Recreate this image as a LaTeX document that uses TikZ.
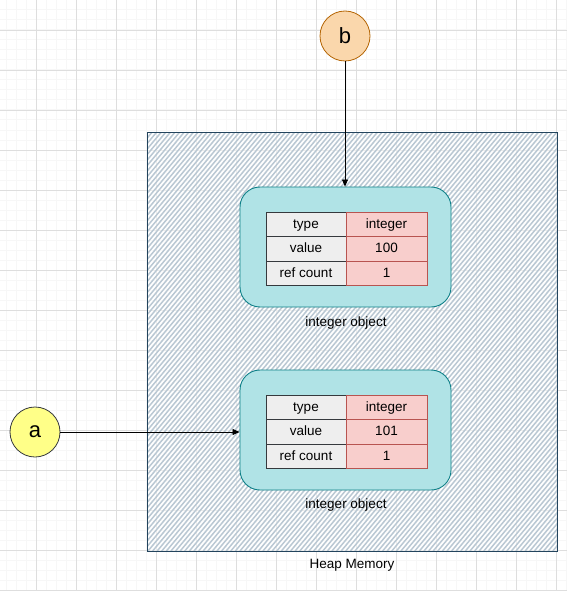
\documentclass[tikz,border=0pt]{standalone}
\usepackage{fontspec}
\setmainfont{Liberation Sans}
\usetikzlibrary{arrows.meta}
\definecolor{gridminor}{HTML}{F7F7F7}
\definecolor{gridmajor}{HTML}{DEDEDE}
\definecolor{heapstroke}{HTML}{23445D}
\definecolor{hatchc}{HTML}{BAC8D3}
\definecolor{objfill}{HTML}{B0E3E6}
\definecolor{objstroke}{HTML}{0E8088}
\definecolor{greyfill}{HTML}{EEEEEE}
\definecolor{greystroke}{HTML}{36393D}
\definecolor{redfill}{HTML}{F8CECC}
\definecolor{redstroke}{HTML}{B85450}
\definecolor{bfill}{HTML}{FAD7AC}
\definecolor{bstroke}{HTML}{B46504}
\definecolor{afill}{HTML}{FFFF88}
\begin{document}
\begin{tikzpicture}[x=1pt,y=-1pt,
  objbox/.style={draw=objstroke,fill=objfill,rounded corners=20pt,line width=0.9pt,minimum width=211pt,minimum height=120pt,inner sep=0pt},
  cellbase/.style={line width=0.8pt,minimum height=24.7pt,inner sep=0pt,text height=9.5pt,text depth=2.5pt,font=\fontsize{13.5}{15}\selectfont},
  keycell/.style={cellbase,draw=greystroke,fill=greyfill,minimum width=80pt},
  valcell/.style={cellbase,draw=redstroke,fill=redfill,minimum width=81pt},
  lbl/.style={font=\fontsize{13.5}{15}\selectfont,inner sep=0pt},
  var/.style={circle,minimum size=50pt,inner sep=0pt,line width=0.8pt,font=\fontsize{22}{24}\selectfont},
  conn/.style={-{Triangle[length=7pt,width=6pt]},line width=0.8pt,black}
]
\useasboundingbox (0,0) rectangle (567,591);
% grid
\foreach \x in {6,16,...,566} \draw[gridminor,line width=1pt] (\x,0) -- (\x,591);
\foreach \y in {0,10,...,590} \draw[gridminor,line width=1pt] (0,\y) -- (567,\y);
\foreach \x in {36,76,...,566} \draw[gridmajor,line width=0.8pt] (\x,0) -- (\x,591);
\foreach \y in {30,70,...,590} \draw[gridmajor,line width=0.8pt] (0,\y) -- (567,\y);
% heap
\node[draw=none,minimum width=410pt,minimum height=419pt,inner sep=0pt] (heap) at (352,341.5) {};
\begin{scope}
  \clip (147,132) rectangle (557,551);
  \fill[white,opacity=0.5] (147,132) rectangle (557,551);
  \foreach \x in {-220,-215.4,...,560} \draw[hatchc,line width=1.5pt] (\x,551) -- (\x+350,131);
\end{scope}
\draw[heapstroke,line width=1pt] (147,132) rectangle (557,551);
\node[lbl] (heaplbl) at (352,565) {Heap Memory};
% object 1
\node[objbox] (obj1) at (345.5,247) {};
\node[keycell] (t1) at (306,224.5) {type};
\node[valcell] (i1) at (386.5,224.5) {integer};
\node[keycell] (v1) at (306,249) {value};
\node[valcell] (n1) at (386.5,249) {100};
\node[keycell] (r1) at (306,273.5) {ref count};
\node[valcell] (c1) at (386.5,273.5) {1};
\node[lbl] (l1) at (346,323) {integer object};
% object 2
\node[objbox] (obj2) at (345.5,430) {};
\node[keycell] (t2) at (306,407.5) {type};
\node[valcell] (i2) at (386.5,407.5) {integer};
\node[keycell] (v2) at (306,432) {value};
\node[valcell] (n2) at (386.5,432) {101};
\node[keycell] (r2) at (306,456.5) {ref count};
\node[valcell] (c2) at (386.5,456.5) {1};
\node[lbl] (l2) at (346,505) {integer object};
% variables
\node[var,draw=bstroke,fill=bfill] (b) at (345,36) {b};
\node[var,draw=greystroke,fill=afill] (a) at (35,432) {a};
\draw[conn] (b.south) -- (b.south |- obj1.north);
\draw[conn] (a.east) -- (a.east -| obj2.west);
\end{tikzpicture}
\end{document}
